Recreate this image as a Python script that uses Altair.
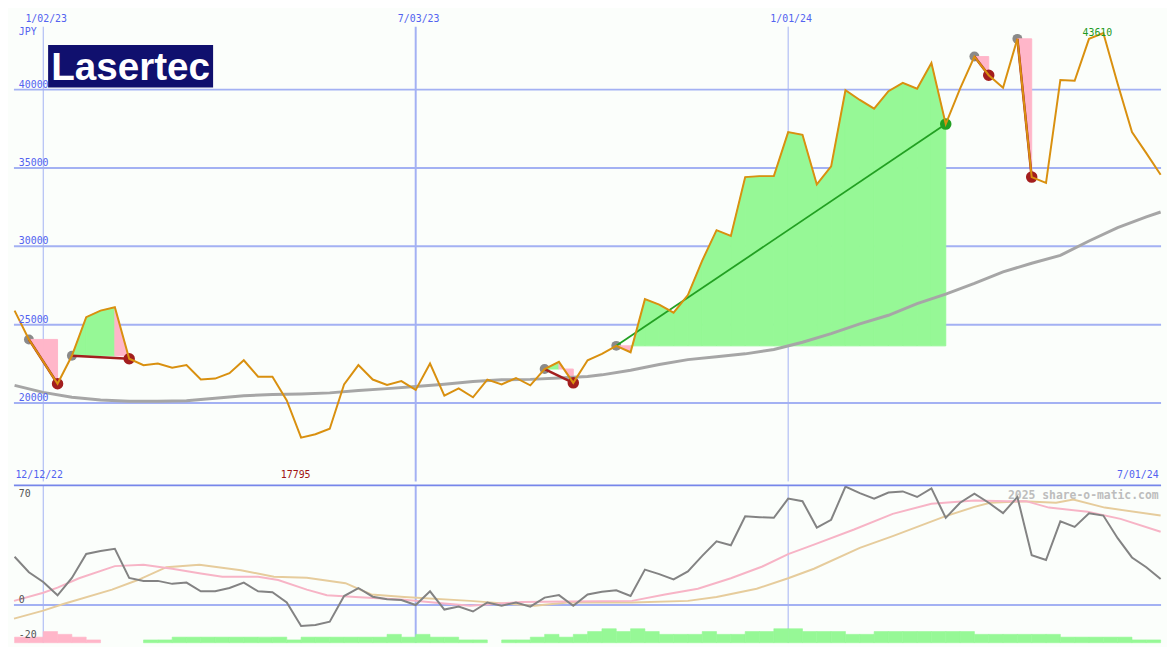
import altair as alt
import pandas as pd

# ---------------- data (weekly points; week 0 = 1/02/23) ----------------
price_weeks = list(range(-2, 79))
price = [25900, 24060, 22650, 21230, 23015, 25480, 25900, 26110, 22830, 22420,
         22520, 22260, 22420, 21500, 21560, 21910, 22730, 21680, 21680, 20170,
         17795, 18010, 18360, 21190, 22420, 21500, 21150, 21400, 20840, 22520,
         20470, 20940, 20370, 21500, 21190, 21600, 21130, 22170, 22630, 21290,
         22730, 23140, 23650, 23240, 26630, 26280, 25770, 26890, 29090, 31030,
         30660, 34420, 34480, 34480, 37290, 37120, 33950, 35100, 39960, 39340,
         38790, 39900, 40430, 40060, 41700, 37800, 40060, 42110, 40920, 40120,
         43240, 34420, 34050, 40620, 40570, 43240, 43610, 40370, 37290, 35950, 34570]

ma_weeks = [-2, 0, 2, 4, 6, 8, 10, 12, 14, 16, 18, 20, 22, 24, 26, 28, 30, 32, 34, 36,
            38, 39, 41, 43, 45, 47, 49, 51, 53, 55, 57, 59, 61, 63, 65, 67, 69, 71, 73, 75,
            77, 78]
ma_price = [21130, 20680, 20370, 20200, 20120, 20120, 20150, 20310, 20460, 20550,
            20580, 20650, 20800, 20920, 21050, 21200, 21380, 21480, 21510, 21600,
            21690, 21800, 22090, 22460, 22770, 22950, 23140, 23420, 23880, 24430,
            25050, 25600, 26340, 26950, 27630, 28370, 28920, 29420, 30340, 31200,
            31880, 32190]

osc = [27.8, 18.9, 13.3, 5.6, 15.6, 29.4, 31.1, 32.4, 15.6, 13.9,
       13.9, 12.2, 12.9, 7.9, 7.9, 9.8, 12.9, 7.9, 7.4, 1.5,
       -12.1, -11.5, -9.6, 5.2, 9.8, 4.8, 3.3, 2.9, 0.0, 7.9,
       -2.6, -0.9, -3.7, 1.5, -0.4, 1.5, -0.9, 4.3, 5.7, -0.4,
       6.1, 7.6, 8.5, 5.2, 20.4, 17.8, 14.8, 19.4, 28.3, 36.7,
       34.4, 51.1, 50.6, 50.2, 61.3, 59.8, 44.6, 49.1, 68.2, 64.4,
       61.3, 64.8, 65.4, 62.2, 67.2, 50.2, 58.9, 64.1, 58.9, 52.9,
       62.2, 28.7, 25.9, 48.2, 45.0, 52.8, 51.5, 38.5, 27.4, 21.8, 15.0]

pink_weeks = [-2.04, 0, 1, 2.5, 5, 7, 9, 11, 12.5, 15, 16.4, 18.4, 19.8, 21.8, 25.2, 28,
              29.8, 33.4, 36.6, 41.1, 43.4, 45.7, 48, 50.2, 52, 53.8, 56.6, 59.3, 62, 65,
              67.3, 68.6, 70.2, 72.9, 75.2, 78]
pink_vals = [2.4, 7.1, 10, 15.4, 22.4, 23.2, 20.9, 18.2, 16.3, 16.3, 14.4, 8.9, 5.6, 4.6,
             3.1, 0.9, -0.4, 1.8, 2.1, 2.4, 6.1, 9.4, 15.4, 22.2, 29.3, 34.8, 43.5, 52.5,
             58.3, 60.2, 59.8, 59.8, 56.1, 53.7, 49.6, 42.2]

tan_weeks = [-2.04, 0, 1.4, 4.8, 6.6, 8.6, 10.9, 13.8, 16.1, 18.4, 21.1, 22.9, 25.2, 29.8,
             34.3, 36.6, 41.1, 45, 47, 49.8, 52, 53.8, 57, 59.3, 62.9, 65, 66.1, 68.4,
             70.7, 71.9, 74.1, 78]
tan_vals = [-7.8, -3.2, 0.6, 8.9, 14.4, 21.8, 23.2, 20.0, 16.3, 15.7, 12.6, 6.1, 4.6, 2.4,
            -0.4, 1.5, 1.5, 2.4, 4.6, 9.4, 15.4, 20.9, 32.9, 39.7, 50.9, 56.5, 58.9, 59.8,
            58.9, 60.7, 56.1, 51.5]

hist_weeks = list(range(-2, 78))
hist_level = [-2, -2, -4, -3, -2, -1, 0, 0, 0, 1,
              1, 2, 2, 2, 2, 2, 2, 2, 2, 1,
              2, 2, 2, 2, 2, 2, 3, 2, 3, 2,
              2, 1, 1, 0, 1, 1, 2, 3, 2, 3,
              4, 5, 4, 5, 4, 3, 3, 3, 4, 3,
              3, 4, 4, 5, 5, 4, 4, 4, 3, 3,
              4, 4, 4, 4, 4, 4, 4, 3, 3, 3,
              3, 3, 3, 2, 2, 2, 2, 2, 1, 1]

trade_entry = [-1, 2, 35, 40, 65, 68]
trade_exit = [1, 6, 37, 63, 66, 69]

grid_levels = [20000, 25000, 30000, 35000, 40000]
date_weeks = [0, 26, 52]
date_labels = ["1/02/23", "7/03/23", "1/01/24"]
start_label = "12/12/22"
end_label = "7/01/24"
currency = "JPY"
company = "Lasertec"
watermark = "2025 share-o-matic.com"
osc_ticks = [0, -20]
osc_top_tick = 70

# ---------------- layout / style ----------------
W, H1, H2 = 1159, 475, 159
SX = W / 1175
SY = H1 / 487

BG = "#fbfefb"
GRID = "#a3b1f3"
BORDER = "#7686ea"
LBL = "#5363f0"
ORANGE = "#d9900f"
MA_C = "#a6a6a6"
FILL_G = "#96f896"
FILL_P = "#ffb6c9"
DRED = "#a31e1e"
DGREEN = "#22a022"
GRAYDOT = "#8a8a8a"
MONO = "DejaVu Sans Mono"

xs = alt.Scale(domain=[-2.045, 78.03], nice=False, zero=False)
ys = alt.Scale(domain=[15000, 45000], nice=False, zero=False)
os_ = alt.Scale(domain=[-21.7, 68.9], nice=False, zero=False)
hs = alt.Scale(domain=[0, 56.2], nice=False, zero=False)


def X(f="w"):
    return alt.X(f"{f}:Q", scale=xs, axis=None)


def YP(f="p"):
    return alt.Y(f"{f}:Q", scale=ys, axis=None)


def YO(f="v"):
    return alt.Y(f"{f}:Q", scale=os_, axis=None)


# ---------------- derived tables ----------------
pmap = dict(zip(price_weeks, price))
price_df = pd.DataFrame({"w": price_weeks, "p": price})
ma_df = pd.DataFrame({"w": ma_weeks, "p": ma_price})

fill_rows, tl_rows, ent_rows, ex_rows = [], [], [], []
for t, (a, b) in enumerate(zip(trade_entry, trade_exit)):
    base = pmap[a]
    for k in range(a, b):
        kind = "up" if pmap[k + 1] >= base else "down"
        sid = f"{t}_{k}"
        fill_rows.append({"w": k, "p": pmap[k], "base": base, "seg": sid, "kind": kind})
        fill_rows.append({"w": k + 1, "p": pmap[k + 1], "base": base, "seg": sid, "kind": kind})
    res = "win" if pmap[b] > base else "loss"
    tl_rows += [{"w": a, "p": base, "tid": t, "res": res},
                {"w": b, "p": pmap[b], "tid": t, "res": res}]
    ent_rows.append({"w": a, "p": base})
    ex_rows.append({"w": b, "p": pmap[b], "res": res})

fill_df = pd.DataFrame(fill_rows)
tl_df = pd.DataFrame(tl_rows)
ent_df = pd.DataFrame(ent_rows)
ex_df = pd.DataFrame(ex_rows)

imax = price.index(max(price))
imin = price.index(min(price))
max_df = pd.DataFrame({"w": [price_weeks[imax]], "p": [price[imax]], "t": [str(price[imax])]})
min_df = pd.DataFrame({"w": [price_weeks[imin]], "t": [str(price[imin])]})

osc_df = pd.DataFrame({"w": price_weeks, "v": osc})
pink_df = pd.DataFrame({"w": pink_weeks, "v": pink_vals})
tan_df = pd.DataFrame({"w": tan_weeks, "v": tan_vals})
hist_df = pd.DataFrame({"w": hist_weeks, "lv": hist_level})
hist_df["w2"] = hist_df["w"] + 1
hist_df["h"] = hist_df["lv"].abs()
hist_df["z"] = 0

one = pd.DataFrame({"a": [0]})

# ---------------- top panel ----------------
grid = alt.Chart(pd.DataFrame({"v": grid_levels})).mark_rule(
    color=GRID, strokeWidth=2).encode(y=YP("v"))

v_thin = alt.Chart(pd.DataFrame({"w": [date_weeks[0], date_weeks[2]]})).mark_rule(
    color=GRID, strokeWidth=1).encode(x=X(), y=alt.value(16 * SY), y2=alt.value(H1))
v_thick = alt.Chart(pd.DataFrame({"w": [date_weeks[1]]})).mark_rule(
    color=GRID, strokeWidth=2).encode(x=X(), y=alt.value(16 * SY), y2=alt.value(H1))

entries = alt.Chart(ent_df).mark_circle(color=GRAYDOT, size=100, opacity=1).encode(x=X(), y=YP())

fill_up = alt.Chart(fill_df[fill_df["kind"] == "up"]).mark_area(
    color=FILL_G, opacity=1, stroke=FILL_G, strokeWidth=1).encode(
    x=X(), y=YP(), y2="base:Q", detail="seg:N")
fill_down = alt.Chart(fill_df[fill_df["kind"] == "down"]).mark_area(
    color=FILL_P, opacity=1, stroke=FILL_P, strokeWidth=1).encode(
    x=X(), y=YP(), y2="base:Q", detail="seg:N")

ma_line = alt.Chart(ma_df).mark_line(color=MA_C, strokeWidth=3).encode(x=X(), y=YP())

tl_loss = alt.Chart(tl_df[tl_df["res"] == "loss"]).mark_line(
    color=DRED, strokeWidth=2.5).encode(x=X(), y=YP(), detail="tid:N")
tl_win = alt.Chart(tl_df[tl_df["res"] == "win"]).mark_line(
    color=DGREEN, strokeWidth=1.8).encode(x=X(), y=YP(), detail="tid:N")

ex_loss = alt.Chart(ex_df[ex_df["res"] == "loss"]).mark_circle(
    color=DRED, size=135, opacity=1).encode(x=X(), y=YP())
ex_win = alt.Chart(ex_df[ex_df["res"] == "win"]).mark_circle(
    color=DGREEN, size=135, opacity=1).encode(x=X(), y=YP())

pline = alt.Chart(price_df).mark_line(color=ORANGE, strokeWidth=2).encode(x=X(), y=YP())

logo_rect = alt.Chart(one).mark_rect(color="#10106e").encode(
    x=alt.value(35 * SX), x2=alt.value(204 * SX), y=alt.value(35 * SY), y2=alt.value(79 * SY))
logo_text = alt.Chart(pd.DataFrame({"t": [company]})).mark_text(
    color="white", font="Liberation Sans", fontWeight="bold",
    fontSize=39, align="center", baseline="alphabetic").encode(
    x=alt.value(119.5 * SX), y=alt.value(71 * SY), text="t:N")

ylab = alt.Chart(pd.DataFrame({"v": grid_levels, "t": [str(g) for g in grid_levels]})).mark_text(
    color=LBL, font=MONO, fontSize=10, align="left", baseline="alphabetic", dy=-2).encode(
    x=alt.value(5 * SX), y=YP("v"), text="t:N")

dlab = alt.Chart(pd.DataFrame({"w": date_weeks, "t": date_labels})).mark_text(
    color=LBL, font=MONO, fontSize=10, align="center", baseline="alphabetic", dx=3).encode(
    x=X(), y=alt.value(11.5 * SY), text="t:N")

cur = alt.Chart(pd.DataFrame({"t": [currency]})).mark_text(
    color=LBL, font=MONO, fontSize=10, align="left", baseline="alphabetic").encode(
    x=alt.value(5 * SX), y=alt.value(24.5 * SY), text="t:N")

start_t = alt.Chart(pd.DataFrame({"t": [start_label]})).mark_text(
    color=LBL, font=MONO, fontSize=10, align="left", baseline="alphabetic").encode(
    x=alt.value(1.5 * SX), y=alt.value(483 * SY), text="t:N")
end_t = alt.Chart(pd.DataFrame({"t": [end_label]})).mark_text(
    color=LBL, font=MONO, fontSize=10, align="right", baseline="alphabetic").encode(
    x=alt.value(1172.5 * SX), y=alt.value(483 * SY), text="t:N")

max_t = alt.Chart(max_df).mark_text(
    color="#1e9a1e", font=MONO, fontSize=10, align="center", baseline="alphabetic",
    dx=-6, dy=2.5).encode(x=X(), y=YP(), text="t:N")
min_t = alt.Chart(min_df).mark_text(
    color="#a01414", font=MONO, fontSize=10, align="center", baseline="alphabetic",
    dx=-5.5).encode(x=X(), y=alt.value(483 * SY), text="t:N")

top = alt.layer(
    grid, v_thin, v_thick, entries, fill_up, fill_down, ma_line, tl_loss, tl_win,
    ex_loss, ex_win, pline, logo_rect, logo_text, ylab, dlab, cur, start_t, end_t,
    max_t, min_t
).properties(width=W, height=H1)

# ---------------- bottom panel ----------------
zero_rule = alt.Chart(pd.DataFrame({"v": [0]})).mark_rule(
    color=GRID, strokeWidth=2).encode(y=YO())
bv_thin = alt.Chart(pd.DataFrame({"w": [date_weeks[0], date_weeks[2]]})).mark_rule(
    color=GRID, strokeWidth=1).encode(x=X(), y=alt.value(0), y2=alt.value(H2))
bv_thick = alt.Chart(pd.DataFrame({"w": [date_weeks[1]]})).mark_rule(
    color=GRID, strokeWidth=2).encode(x=X(), y=alt.value(0), y2=alt.value(H2))

hist_pos = alt.Chart(hist_df[hist_df["lv"] > 0]).mark_rect(
    color=FILL_G, stroke=FILL_G, strokeWidth=0.6).encode(
    x=X(), x2="w2:Q", y=alt.Y("h:Q", scale=hs, axis=None), y2="z:Q")
hist_neg = alt.Chart(hist_df[hist_df["lv"] < 0]).mark_rect(
    color=FILL_P, stroke=FILL_P, strokeWidth=0.6).encode(
    x=X(), x2="w2:Q", y=alt.Y("h:Q", scale=hs, axis=None), y2="z:Q")

wm = alt.Chart(pd.DataFrame({"t": [watermark]})).mark_text(
    color="#bdbdbd", font=MONO, fontSize=11.5, fontWeight="bold", align="right",
    baseline="alphabetic").encode(x=alt.value(1172.5 * SX), y=alt.value(14 * SY), text="t:N")

tan_line = alt.Chart(tan_df).mark_line(color="#e6cc9c", strokeWidth=2).encode(x=X(), y=YO())
pink_line = alt.Chart(pink_df).mark_line(color="#f7b4c6", strokeWidth=2).encode(x=X(), y=YO())
osc_line = alt.Chart(osc_df).mark_line(color="#838383", strokeWidth=2).encode(x=X(), y=YO())

border = alt.Chart(one).mark_rule(color=BORDER, strokeWidth=2).encode(
    x=alt.value(0), x2=alt.value(W), y=alt.value(0))

olab = alt.Chart(pd.DataFrame({"v": osc_ticks, "t": [str(v) for v in osc_ticks]})).mark_text(
    color="#555555", font=MONO, fontSize=10, align="left", baseline="alphabetic", dy=-2).encode(
    x=alt.value(5 * SX), y=YO(), text="t:N")
olab_top = alt.Chart(pd.DataFrame({"t": [str(osc_top_tick)]})).mark_text(
    color="#555555", font=MONO, fontSize=10, align="left", baseline="alphabetic").encode(
    x=alt.value(5 * SX), y=alt.value(12.5 * SY), text="t:N")

bottom = alt.layer(
    zero_rule, bv_thin, bv_thick, hist_pos, hist_neg, wm, tan_line, pink_line, osc_line,
    border, olab, olab_top
).resolve_scale(y="independent").properties(width=W, height=H2)

chart = alt.vconcat(top, bottom, spacing=0).properties(
    padding=0, background=BG
).configure_view(strokeWidth=0)

chart.save("out.html", embed_options={"renderer": "svg", "actions": False})
